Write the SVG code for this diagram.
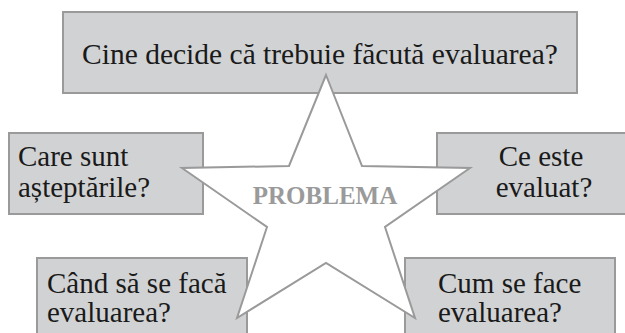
<svg xmlns="http://www.w3.org/2000/svg" width="625" height="333" viewBox="0 0 625 333">
<style>
.box{fill:#d1d2d4;stroke:#9a9a9a;stroke-width:2}
.t{font-family:"Liberation Serif","DejaVu Serif",serif;font-size:29px;fill:#1a1a1a}
.star{fill:#ffffff;stroke:#9a9a9a;stroke-width:2;stroke-linejoin:miter}
.p{font-family:"Liberation Serif","DejaVu Serif",serif;font-size:25px;font-weight:bold;fill:#9a9a9a}
</style>
<rect width="625" height="333" fill="#ffffff"/>
<g id="n-top">
<rect class="box" x="63" y="12" width="514" height="81"/>
<text class="t" x="320" y="64" text-anchor="middle" style="font-size:29.5px">Cine decide că trebuie făcută evaluarea?</text>
</g>
<g id="n-left">
<rect class="box" x="9" y="133" width="194" height="81"/>
<text class="t" x="18" y="166">Care sunt</text>
<text class="t" x="18" y="197">așteptările?</text>
</g>
<g id="n-right">
<rect class="box" x="437" y="133" width="200" height="81"/>
<text class="t" x="541" y="166" text-anchor="middle">Ce este</text>
<text class="t" x="544" y="197" text-anchor="middle">evaluat?</text>
</g>
<g id="n-bl">
<rect class="box" x="37" y="258" width="210" height="90"/>
<text class="t" x="47" y="293">Când să se facă</text>
<text class="t" x="47" y="322">evaluarea?</text>
</g>
<g id="n-br">
<rect class="box" x="405" y="258" width="210" height="90"/>
<text class="t" x="438" y="293">Cum se face</text>
<text class="t" x="438" y="322">evaluarea?</text>
</g>
<g id="connectors"></g>
<g id="n-star">
<polygon class="star" points="326,75 362,166 470,168 385,227 415,318 326,263 237,318 267,227 182,168 289,166"/>
<text class="p" x="325" y="204" text-anchor="middle">PROBLEMA</text>
</g>
</svg>
